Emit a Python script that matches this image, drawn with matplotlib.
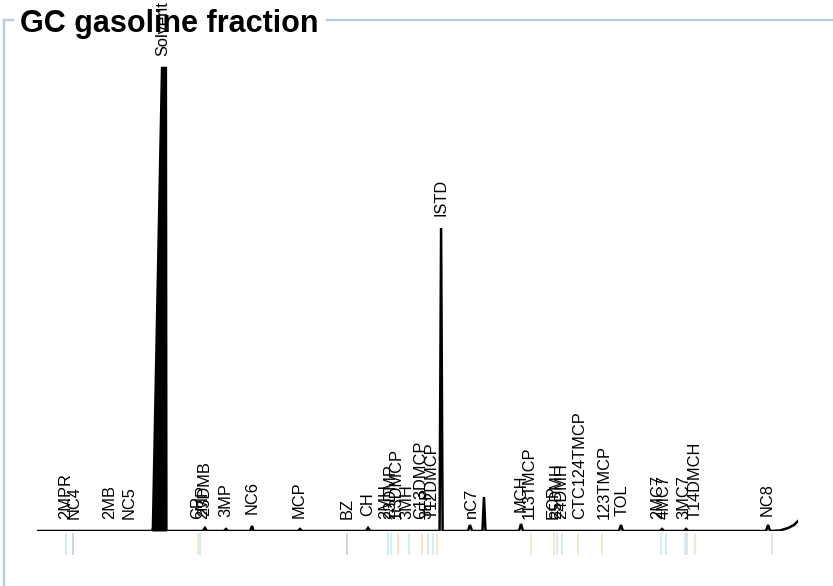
import matplotlib
matplotlib.use("Agg")
from matplotlib import pyplot as plt
from matplotlib.lines import Line2D
import numpy as np

plt.rcParams['font.family'] = ['Liberation Sans', 'DejaVu Sans']

# detector trace, retention time (min) vs signal (pA)
trace_rt = [0.0, 4.53, 4.57, 4.93, 5.08, 5.10, 6.54, 6.62, 6.70, 7.37, 7.45, 7.53,
            8.40, 8.48, 8.53, 10.29, 10.37, 10.45, 12.97, 13.05, 13.13,
            15.87, 15.93, 15.99, 16.99, 17.07, 17.15, 17.56, 17.62, 17.68,
            19.00, 19.08, 19.16, 22.94, 23.02, 23.10, 24.56, 24.64, 24.72,
            25.51, 25.59, 25.66, 28.74, 28.82, 28.90, 29.29, 29.61, 29.84, 30.00]
trace_pa = [0, 0, 3, 463, 463, 0, 0, 3, 0, 0, 2, 0,
            0, 5, 0, 0, 2, 0, 0, 3, 0,
            0, 303, 0, 0, 6, 0, 0, 34, 0,
            0, 7, 0, 0, 6, 0, 0, 2, 0,
            0, 2, 0, 0, 6, 0, 0.5, 3, 6, 10]

# peak identification labels
labels = ['2MPR', 'NC4', '2MB', 'NC5', 'Solvent', 'CP', '2MP', '23DMB', '3MP', 'NC6',
          'MCP', 'BZ', 'CH', '2MH', '23DMP', '1t3DMCP', '3MH', 'C13DMCP', '3EP',
          'T12DMCP', 'ISTD', 'nC7', 'MCH', '113TMCP', 'ECP', '25DMH', '24DMH',
          'CTC124TMCP', '123TMCP', 'TOL', '2MC7', '4MC7', '3MC7', 'T14DMCH', 'NC8']
label_rt = [1.14, 1.46, 2.88, 3.63, 4.97, 6.35, 6.54, 6.62, 7.45, 8.48,
            10.33, 12.22, 13.05, 13.76, 13.95, 14.15, 14.59, 15.14, 15.37,
            15.57, 15.93, 17.13, 19.08, 19.40, 20.34, 20.50, 20.70,
            21.41, 22.35, 23.06, 24.48, 24.72, 25.51, 25.94, 28.78]

# expected retention windows shown under the baseline
marker_rt = [1.14, 1.42, 6.35, 6.43, 12.22, 13.84, 13.95, 14.23, 14.66, 15.18, 15.41,
             15.61, 15.77, 19.47, 20.38, 20.50, 20.70, 21.33, 22.27, 24.60, 24.80,
             25.55, 25.62, 25.94, 28.97]
marker_group = ['iso', 'aro', 'naph', 'iso', 'aro', 'iso', 'iso', 'naph', 'iso', 'naph', 'iso',
                'iso', 'naph', 'naph', 'naph', 'iso', 'iso', 'naph', 'naph', 'iso', 'iso',
                'iso', 'n', 'naph', 'n']
group_colors = {'iso': '#c6eff6', 'aro': '#d3cdf3', 'naph': '#fbe5c0', 'n': '#e2e2e2'}

fig = plt.figure(figsize=(8.33, 5.86), dpi=100)
ax = fig.add_axes([37 / 833, 55 / 586, 761 / 833, 470 / 586])
ax.set_xlim(0, 30)
ax.set_ylim(0, 470)
ax.axis('off')

# solvent peak is overloaded and shows as a solid block
rt = np.array(trace_rt)
ax.fill_between(rt, trace_pa, where=rt < 6, color='black', lw=0)
ax.plot(trace_rt, trace_pa, color='black', lw=1.8, solid_joinstyle='miter')

ax.vlines(marker_rt, -24, -2, colors=[group_colors[g] for g in marker_group],
          lw=1.3, clip_on=False)

label_h = np.interp(label_rt, trace_rt, trace_pa)
for lab, t, h in zip(labels, label_rt, label_h):
    ax.annotate(lab, (t, h), xytext=(0, 8.5), textcoords='offset points',
                rotation=90, ha='center', va='bottom', fontsize=11.8,
                annotation_clip=False)

# group frame
frame_col = '#b9cde5'
fig.add_artist(Line2D([4 / 833, 13 / 833], [1 - 19.5 / 586] * 2, color=frame_col, lw=1.7))
fig.add_artist(Line2D([327 / 833, 1], [1 - 19.5 / 586] * 2, color=frame_col, lw=1.7))
fig.add_artist(Line2D([4 / 833] * 2, [0, 1 - 19.5 / 586], color=frame_col, lw=1.7))

fig.text(20 / 833, 1 - 32 / 586, 'GC gasoline fraction', fontsize=22,
         fontweight='bold', va='baseline', ha='left')

fig.savefig('out.png', dpi=100)
